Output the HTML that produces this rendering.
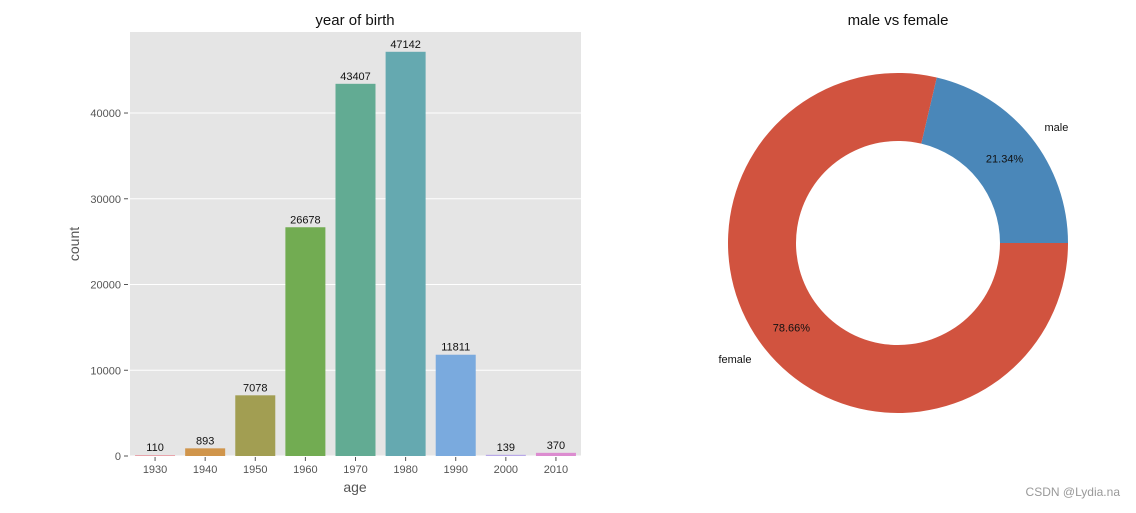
<!DOCTYPE html>
<html><head><meta charset="utf-8"><style>
body{margin:0;background:#fff;width:1136px;height:508px;overflow:hidden;font-family:"Liberation Sans","DejaVu Sans",sans-serif}
</style></head><body>
<svg id="svg" width="1136" height="508" xmlns="http://www.w3.org/2000/svg">
<text x="355" y="25" text-anchor="middle" font-size="15" fill="#111">year of birth</text>
<rect x="130" y="32" width="451" height="424" fill="#e5e5e5"/>
<g id="grid"></g><g id="bars"></g><g id="ticks"></g>
<text x="355" y="492" text-anchor="middle" font-size="14" fill="#555">age</text>
<text x="79" y="244" text-anchor="middle" font-size="14" fill="#555" transform="rotate(-90 79 244)">count</text>
<text x="898" y="25" text-anchor="middle" font-size="15" fill="#111">male vs female</text>
<g id="pie"></g>
<text x="1120" y="496" text-anchor="end" font-size="12" fill="#999">CSDN @Lydia.na</text>
</svg>
<script>
const categories=["1930","1940","1950","1960","1970","1980","1990","2000","2010"];
const counts=[110,893,7078,26678,43407,47142,11811,139,370];
const barColors=["#e8a1a8","#d0954b","#a29e52","#72ac52","#62ab93","#65a9b0","#7aaade","#b8a8e8","#dc8cd0"];
const yTicks=[0,10000,20000,30000,40000];
const pieLabels=["male","female"];
const pieValues=[21.34,78.66];
const pieColors=["#4a87b9","#d1533f"];
const NS="http://www.w3.org/2000/svg";
function mk(t,a,p){const e=document.createElementNS(NS,t);for(const k in a)e.setAttribute(k,a[k]);p.appendChild(e);return e;}
const y0=456,yMax=49450,ph=424,x0=130,step=451/categories.length;
const ys=v=>y0-v/yMax*ph;
const xs=i=>x0+step*(i+0.5);
const grid=document.getElementById('grid'),bars=document.getElementById('bars'),ticks=document.getElementById('ticks');
yTicks.forEach(v=>{
 const l=mk('line',{x1:130,x2:581,y1:ys(v),y2:ys(v),stroke:'#fff','stroke-width':1},grid);
 
 
 const t=mk('text',{x:121,y:ys(v)+4,'text-anchor':'end','font-size':11,fill:'#555'},ticks);t.textContent=v;
 
 
 mk('line',{x1:124,x2:128,y1:ys(v),y2:ys(v),stroke:'#555'},ticks);
});
categories.forEach((c,i)=>{
 const cx=xs(i);
 const r=mk('rect',{x:cx-20,y:ys(counts[i]),width:40,height:y0-ys(counts[i]),fill:barColors[i]},bars);
 
 
 const v=mk('text',{x:cx,y:ys(counts[i])-4,'text-anchor':'middle','font-size':11,fill:'#111'},bars);v.textContent=counts[i];
 
 
 mk('line',{x1:cx,x2:cx,y1:457,y2:461,stroke:'#555'},ticks);
 const t=mk('text',{x:cx,y:473,'text-anchor':'middle','font-size':11,fill:'#555'},ticks);t.textContent=c;
 
 
});
const pie=document.getElementById('pie'),cx=898,cy=243,R=170,r0=102;
const total=pieValues.reduce((a,b)=>a+b,0);let a=0;
pieValues.forEach((v,i)=>{
 const a1=a,a2=a+v/total*2*Math.PI;a=a2;
 const p=(ang,rad)=>[cx+rad*Math.cos(ang),cy-rad*Math.sin(ang)];
 const large=(a2-a1)>Math.PI?1:0;
 const [x1,y1]=p(a1,R),[x2,y2]=p(a2,R),[x3,y3]=p(a2,r0),[x4,y4]=p(a1,r0);
 const s=mk('path',{d:`M${x1},${y1}A${R},${R} 0 ${large} 0 ${x2},${y2}L${x3},${y3}A${r0},${r0} 0 ${large} 1 ${x4},${y4}Z`,fill:pieColors[i]},pie);
 
 
 const m=(a1+a2)/2;
 const [lx,ly]=p(m,R*1.1);
 const t=mk('text',{x:lx,y:ly+4,'text-anchor':Math.cos(m)>0?'start':'end','font-size':11,fill:'#111'},pie);t.textContent=pieLabels[i];
 
 
 const [px,py]=p(m,R*0.8);
 const q=mk('text',{x:px,y:py+4,'text-anchor':'middle','font-size':11,fill:'#111'},pie);q.textContent=v.toFixed(2)+'%';
 
 
});
</script>
</body></html>
